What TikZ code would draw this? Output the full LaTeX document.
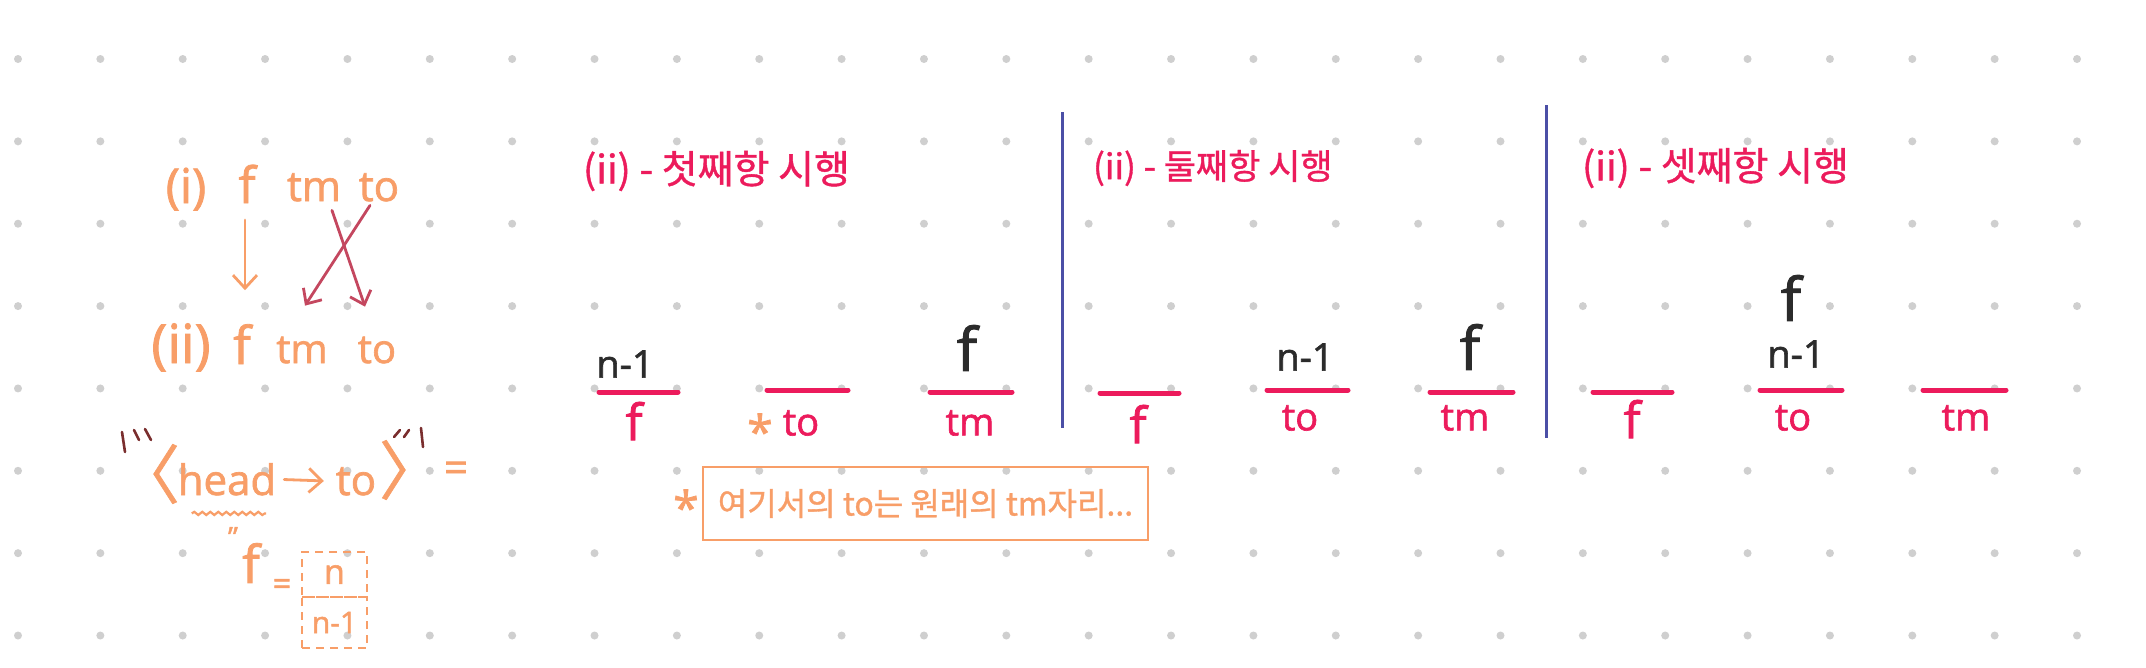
\documentclass[tikz,border=0pt]{standalone}
\usepackage{fontspec}
\setmainfont{Open Sans}[FakeBold=1.6]
\newfontfamily\kr{Noto Sans CJK KR}[FakeBold=1.0]
\usetikzlibrary{arrows.meta,decorations.pathmorphing,calc}
\definecolor{orn}{HTML}{F89E68}
\definecolor{pnk}{HTML}{EC1B5C}
\definecolor{rasp}{HTML}{C4475F}
\definecolor{brn}{HTML}{7A2E2E}
\definecolor{blu}{HTML}{4B4FA6}
\definecolor{ink}{HTML}{2B2B2B}
\definecolor{dotc}{HTML}{CFCFCF}
\newcommand{\fs}[1]{\fontsize{#1}{#1}\selectfont}
\begin{document}
\begin{tikzpicture}[x=1pt,y=-1pt,
  txt/.style={inner sep=0pt,outer sep=0pt},
  o/.style={txt,text=orn},
  p/.style={txt,text=pnk},
  k/.style={txt,text=ink},
  bar/.style={draw=pnk,line width=5pt,line cap=round},
  sep/.style={draw=blu,line width=3pt},
  oarrow/.style={draw=orn,line width=2.8pt,line cap=round,-{Straight Barb[length=13pt,width=24pt,line width=2.8pt]}},
  rarrow/.style={draw=rasp,line width=2.8pt,line cap=round,-{Straight Barb[length=12pt,width=22pt,line width=2.8pt]}},
  bmark/.style={draw=brn,line width=2.6pt,line cap=round},
  cell/.style={draw=orn,dashed,dash pattern=on 8pt off 6pt,line width=2.2pt,minimum width=65pt,text=orn,inner sep=0pt}
]
\useasboundingbox (0,0) rectangle (2146,667);
\fill[white] (0,0) rectangle (2146,667);
% dot grid
\foreach \i in {0,...,25}{
  \foreach \j in {0,...,7}{
    \fill[dotc] (18+82.36*\i,59+82.36*\j) circle (4pt);
  }
}
% ---- left part
\node[o,anchor=base,font=\fs{48}] (pi) at (186,203) {(i)};
\node[o,anchor=base,font=\fs{50}] (f1) at (247,203) {f};
\node[o,anchor=base,font=\fs{42}] (tm1) at (314,201) {tm};
\node[o,anchor=base,font=\fs{42}] (to1) at (379,201) {to};
\node[o,anchor=base,font=\fs{54}] (pii) at (181,363) {(ii)};
\node[o,anchor=base,font=\fs{52}] (f2) at (242,364) {f};
\node[o,anchor=base,font=\fs{40}] (tm2) at (302,363) {tm};
\node[o,anchor=base,font=\fs{40}] (to2) at (377,363) {to};
\draw[oarrow] ($(f1.south)+(-2,17)$) -- ($(f2.north)+(3,-34)$);
\draw[rarrow] ($(to1.south)+(-9,4)$) -- ($(tm2.north)+(3,-31)$);
\draw[rarrow] ($(tm1.south)+(18,9)$) -- ($(to2.north)+(-12,-30)$);
% < head -> to > =
\node[o,font=\kr\fs{64}] (la) at (148,474) {〈};
\node[o,anchor=base,font=\fs{42}] (head) at (227,495) {head};
\node[o,anchor=base,font=\fs{42}] (to3) at (356,495) {to};
\node[o,font=\kr\fs{64}] (ra) at (411,470) {〉};
\node[o,font=\fs{42}] (eq1) at (456,472) {=};
\draw[oarrow,shorten <=8pt,shorten >=12pt] (head.east) -- (to3.west);
\draw[orn,line width=2.2pt,decorate,decoration={snake,amplitude=1.6pt,segment length=8pt}] ($(head.south west)+(14,18)$) -- ($(head.south east)+(-10,18)$);
% brown marks
\draw[bmark] (122,432) -- (125,452);
\draw[bmark] (134,430) -- (139,440);
\draw[bmark] (145,429) -- (151,440);
\draw[bmark] (394,437) -- (400,430);
\draw[bmark] (404,437) -- (409,430);
\draw[bmark] (421,428) -- (423,447);
% "f = [n / n-1]
\node[o,font=\fs{28}] (q) at (233,537) {"};
\node[o,font=\fs{52}] (f4) at (251,563) {f};
\node[o,font=\fs{32}] (eq2) at (282,587) {=};
\node[cell,minimum height=45pt,font=\fs{34}] (cn) at (334.5,574.5) {n};
\node[cell,minimum height=51pt,font=\fs{30}] (cn1) at (334.5,622.5) {n-1};
% ---- separators
\draw[sep] (1062,112) -- (1062,428);
\draw[sep] (1546,105) -- (1546,438);
% ---- titles
\node[p,anchor=west,font=\kr\fs{39}] (t1) at (583,171) {(ii) - 첫째항 시행};
\node[p,anchor=west,font=\kr\fs{35}] (t2) at (1093,168) {(ii) - 둘째항 시행};
\node[p,anchor=west,font=\kr\fs{39}] (t3) at (1582,168) {(ii) - 셋째항 시행};
% ---- section 1
\coordinate (a1l) at (599,392); \coordinate (a1r) at (678,392);
\draw[bar] (a1l) -- (a1r);
\node[k,font=\fs{38}] (a1t) at (625,364) {n-1};
\node[p,font=\fs{50}] (a1b) at (634,421) {f};
\coordinate (a2l) at (767,390); \coordinate (a2r) at (848,390);
\draw[bar] (a2l) -- (a2r);
\node[p,font=\fs{38}] (a2b) at (801,423) {to};
\node[o,font=\fs{46}] (st1) at (760,431) {*};
\coordinate (a3l) at (930,392); \coordinate (a3r) at (1012,392);
\draw[bar] (a3l) -- (a3r);
\node[k,font=\fs{60}] (a3t) at (967,348) {f};
\node[p,font=\fs{38}] (a3b) at (970,423) {tm};
% note box
\node[o,font=\fs{46}] (st2) at (686,507) {*};
\node[draw=orn,line width=2.5pt,minimum width=445pt,minimum height=73pt,inner sep=0pt,text=orn,font=\kr\fs{32}] (note) at (925.5,503.5) {여기서의 to는 원래의 tm자리...};
% ---- section 2
\coordinate (b1l) at (1100,393); \coordinate (b1r) at (1179,393);
\draw[bar] (b1l) -- (b1r);
\node[p,font=\fs{50}] (b1b) at (1138,424) {f};
\coordinate (b2l) at (1267,390); \coordinate (b2r) at (1348,390);
\draw[bar] (b2l) -- (b2r);
\node[k,font=\fs{38}] (b2t) at (1305,357) {n-1};
\node[p,font=\fs{38}] (b2b) at (1300,418) {to};
\coordinate (b3l) at (1430,392); \coordinate (b3r) at (1513,392);
\draw[bar] (b3l) -- (b3r);
\node[k,font=\fs{60}] (b3t) at (1470,347) {f};
\node[p,font=\fs{38}] (b3b) at (1465,418) {tm};
% ---- section 3
\coordinate (c1l) at (1593,392); \coordinate (c1r) at (1672,392);
\draw[bar] (c1l) -- (c1r);
\node[p,font=\fs{50}] (c1b) at (1632,419) {f};
\coordinate (c2l) at (1760,390); \coordinate (c2r) at (1842,390);
\draw[bar] (c2l) -- (c2r);
\node[k,font=\fs{38}] (c2t) at (1796,354) {n-1};
\node[k,font=\fs{60}] (c2f) at (1791,298) {f};
\node[p,font=\fs{38}] (c2b) at (1793,418) {to};
\coordinate (c3l) at (1923,390); \coordinate (c3r) at (2006,390);
\draw[bar] (c3l) -- (c3r);
\node[p,font=\fs{38}] (c3b) at (1966,418) {tm};
\end{tikzpicture}
\end{document}
